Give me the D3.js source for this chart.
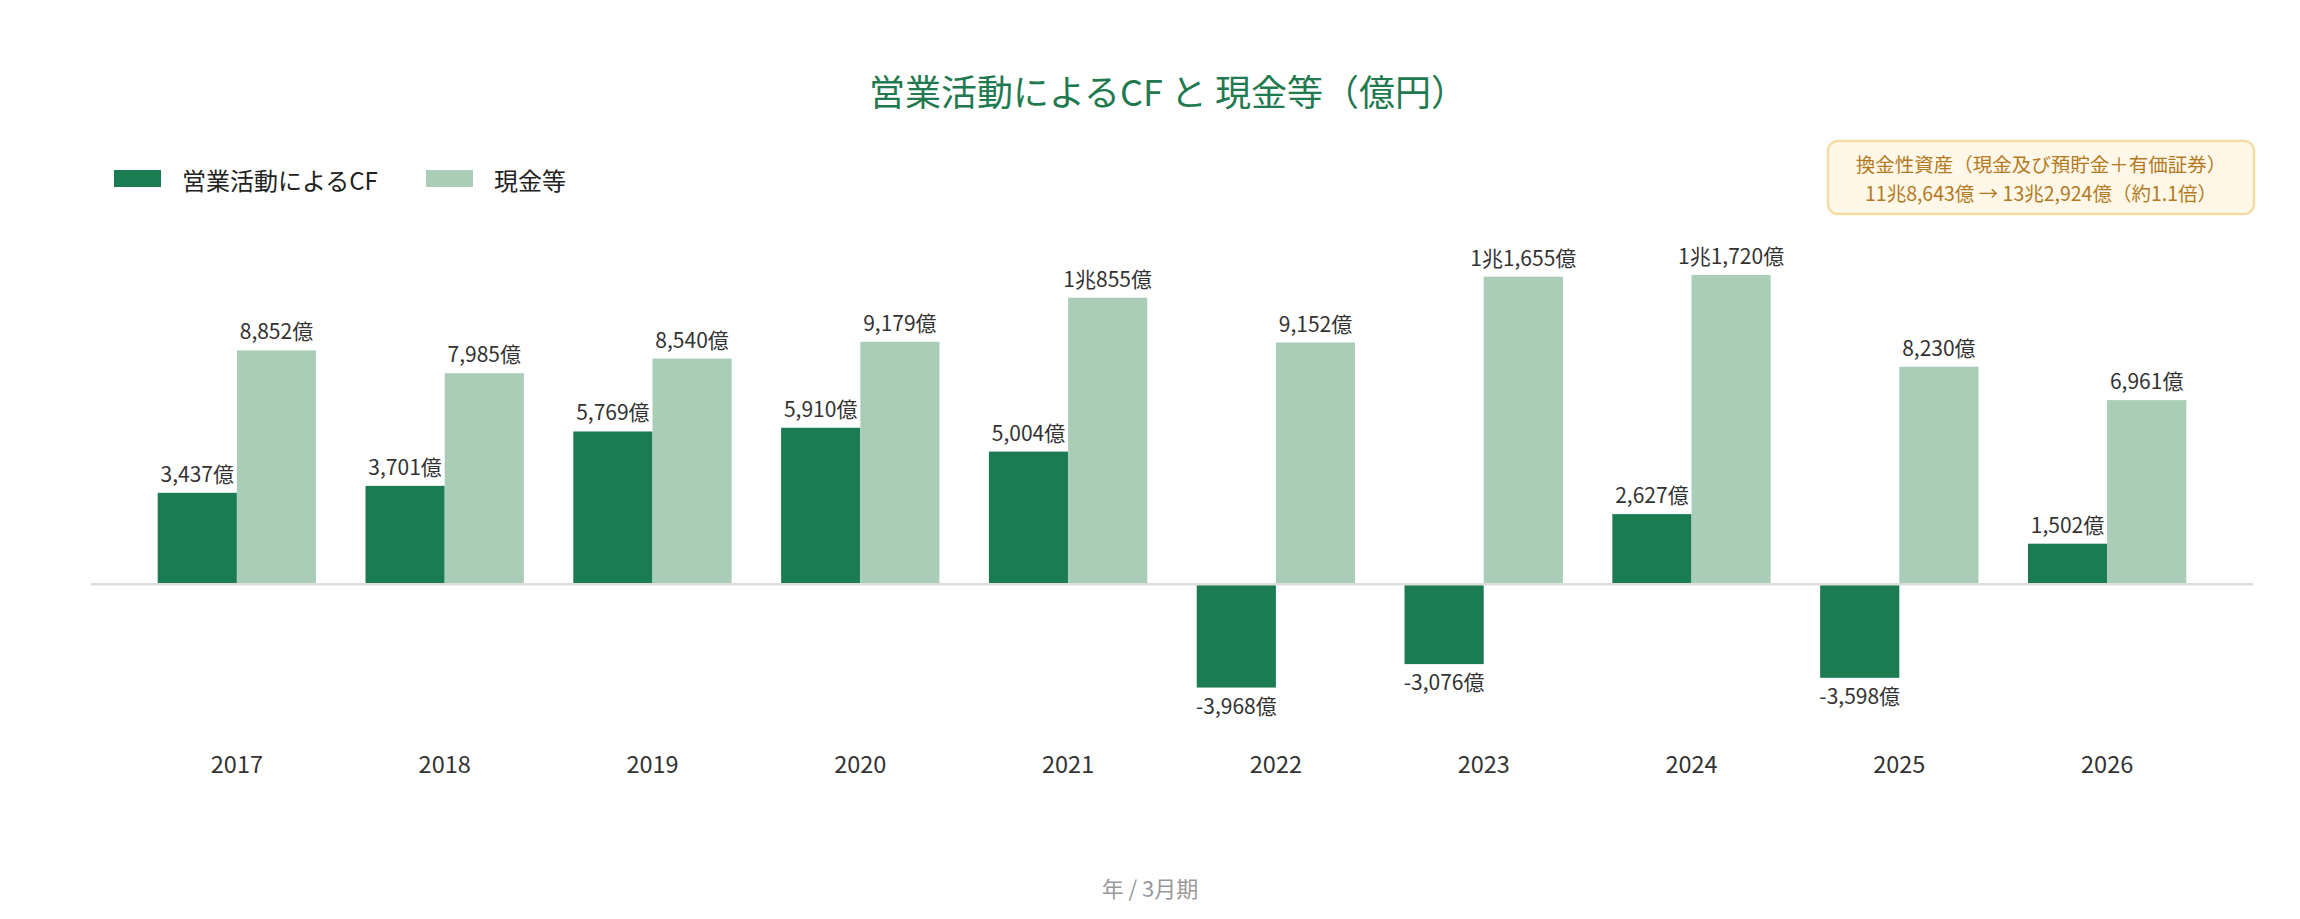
<!DOCTYPE html>
<html lang="ja">
<head>
  <meta charset="UTF-8">
  <title>営業活動によるCF と 現金等</title>
  <script src="https://cdn.jsdelivr.net/npm/d3@7/dist/d3.min.js"></script>
  <style>
    body { margin: 0; background: #fff; }
    text { font-family: "Noto Sans CJK JP", "Noto Sans", sans-serif; }
  </style>
</head>
<body>
  <div id="chart"></div>
  <script>
    // data (億円)
    var years = ["2017", "2018", "2019", "2020", "2021", "2022", "2023", "2024", "2025", "2026"];
    var cfValues = [3437, 3701, 5769, 5910, 5004, -3968, -3076, 2627, -3598, 1502];
    var cashValues = [8852, 7985, 8540, 9179, 10855, 9152, 11655, 11720, 8230, 6961];
    var seriesNames = ["営業活動によるCF", "現金等"];
    var noteLines = ["換金性資産（現金及び預貯金＋有価証券）", "11兆8,643億 → 13兆2,924億（約1.1倍）"];

    var width = 2300, height = 919;
    var colors = ["#1b7b52", "#a9cdb7"];

    var svg = d3.select("#chart").append("svg")
      .attr("width", width)
      .attr("height", height);

    var x = d3.scaleBand()
      .domain(years)
      .range([91, 2253])
      .paddingInner(0.238)
      .paddingOuter(0.321);

    var x1 = d3.scaleBand()
      .domain([0, 1])
      .range([0, x.bandwidth()]);

    var y = d3.scaleLinear()
      .domain([-6000, 14000])
      .range([741, 215]);

    // 1兆855億 みたいな表記
    function fmt(v) {
      var sign = v < 0 ? "-" : "";
      var a = Math.abs(v);
      if (a >= 10000) {
        var cho = Math.floor(a / 10000);
        return sign + cho + "兆" + d3.format(",")(a % 10000) + "億";
      }
      return sign + d3.format(",")(a) + "億";
    }

    var rows = years.map(function (yr, i) {
      return { year: yr, vals: [cfValues[i], cashValues[i]] };
    });

    // title
    svg.append("text")
      .attr("x", 1168)
      .attr("y", 106)
      .attr("text-anchor", "middle")
      .attr("font-size", 36)
      .attr("fill", "#1f7a4f")
      .text("営業活動によるCF と 現金等（億円）");

    // legend
    var legendX = [114, 426];
    seriesNames.forEach(function (name, i) {
      svg.append("rect")
        .attr("x", legendX[i]).attr("y", 170)
        .attr("width", 47).attr("height", 17)
        .attr("fill", colors[i]);
      svg.append("text")
        .attr("x", legendX[i] + 68)
        .attr("y", 179)
        .attr("dominant-baseline", "central")
        .attr("font-size", 24)
        .attr("fill", "#222")
        .text(name);
    });

    // note box
    var note = svg.append("g");
    note.append("rect")
      .attr("x", 1828).attr("y", 141)
      .attr("width", 426).attr("height", 73)
      .attr("rx", 10)
      .attr("fill", "#fff8e8")
      .attr("stroke", "#f3dca6")
      .attr("stroke-width", 2.5);
    note.selectAll("text")
      .data(noteLines)
      .enter()
      .append("text")
      .attr("x", 2041)
      .attr("y", function (d, i) { return 163.5 + i * 28.5; })
      .attr("dominant-baseline", "central")
      .attr("text-anchor", "middle")
      .attr("font-size", 19.5)
      .attr("fill", "#b37a1f")
      .text(function (d) { return d; });

    // bars
    var groups = svg.selectAll(".grp")
      .data(rows)
      .enter()
      .append("g")
      .attr("class", "grp")
      .attr("transform", function (d) { return "translate(" + x(d.year) + ",0)"; });

    groups.selectAll("rect")
      .data(function (d) { return d.vals; })
      .enter()
      .append("rect")
      .attr("x", function (d, i) { return x1(i); })
      .attr("y", function (d) { return y(Math.max(0, d)); })
      .attr("width", x1.bandwidth())
      .attr("height", function (d) { return Math.abs(y(d) - y(0)); })
      .attr("fill", function (d, i) { return colors[i]; });

    groups.selectAll(".lbl")
      .data(function (d) { return d.vals; })
      .enter()
      .append("text")
      .attr("class", "lbl")
      .attr("x", function (d, i) { return x1(i) + x1.bandwidth() / 2; })
      .attr("y", function (d) { return d >= 0 ? y(d) - 11 : y(d) + 26; })
      .attr("text-anchor", "middle")
      .attr("font-size", 21)
      .attr("fill", "#333")
      .text(function (d) { return fmt(d); });

    // zero line
    svg.append("line")
      .attr("x1", 91).attr("x2", 2253)
      .attr("y1", y(0) + 1).attr("y2", y(0) + 1)
      .attr("stroke", "#dddddd")
      .attr("stroke-width", 2.5);

    // x axis labels
    var xAxis = d3.axisBottom(x).tickSize(0).tickPadding(0);
    var ax = svg.append("g")
      .attr("transform", "translate(0,763)")
      .call(xAxis);
    ax.select(".domain").remove();
    ax.selectAll("text")
      .attr("dy", null)
      .attr("y", 0)
      .attr("dominant-baseline", "central")
      .attr("font-size", 23.5)
      .attr("fill", "#333")
      .style("font-family", "\"Noto Sans CJK JP\", \"Noto Sans\", sans-serif");

    svg.append("text")
      .attr("x", 1150)
      .attr("y", 887)
      .attr("dominant-baseline", "central")
      .attr("text-anchor", "middle")
      .attr("font-size", 22)
      .attr("fill", "#999")
      .text("年 / 3月期");
  </script>
</body>
</html>
